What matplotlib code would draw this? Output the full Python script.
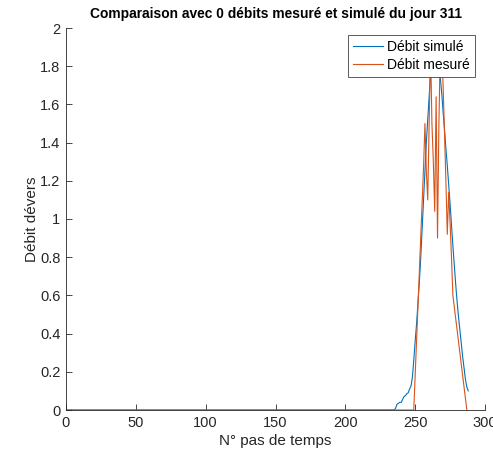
import matplotlib
matplotlib.use("Agg")
import matplotlib.pyplot as plt
from matplotlib.ticker import FuncFormatter

plt.rcParams['font.family'] = ['Liberation Sans', 'DejaVu Sans']

# Simulated flow: zero until step 235, then values
sim_start = 235
sim_vals = [0, 0.01, 0.03, 0.035, 0.04, 0.04, 0.055, 0.07, 0.075, 0.085, 0.09,
            0.11, 0.125, 0.17, 0.26, 0.36, 0.45, 0.56, 0.67, 0.80, 0.95, 1.10,
            1.26, 1.40, 1.52, 1.64, 1.75, 1.83, 1.88, 1.90, 1.90, 1.88, 1.82,
            1.74, 1.66, 1.56, 1.47, 1.37, 1.28, 1.18, 1.08, 0.97, 0.86, 0.76,
            0.66, 0.57, 0.49, 0.42, 0.35, 0.28, 0.22, 0.16, 0.12, 0.10]

# Measured flow: zero until step 249, then values
mes_start = 249
mes_vals = [0, 0.18, 0.36, 0.54, 0.72, 0.90, 1.08, 1.27, 1.50, 1.25, 1.10,
            1.50, 1.90, 1.50, 1.30, 1.04, 1.64, 0.90, 1.50, 1.90, 1.90, 1.70,
            1.45, 1.20, 0.92, 1.14, 0.98, 0.80, 0.60, 0.54, 0.48, 0.42, 0.36,
            0.30, 0.24, 0.18, 0.12, 0.06, 0]

sim_x = list(range(1, sim_start)) + list(range(sim_start, sim_start + len(sim_vals)))
sim_y = [0.0] * (sim_start - 1) + sim_vals
mes_x = list(range(1, mes_start)) + list(range(mes_start, mes_start + len(mes_vals)))
mes_y = [0.0] * (mes_start - 1) + mes_vals

title = "Comparaison avec 0 débits mesuré et simulé du jour 311"
xlabel = "N° pas de temps"
ylabel = "Débit dévers"

fig = plt.figure(figsize=(4.93, 4.59), dpi=100)
ax = fig.add_axes([66/493, 49/459, 419/493, 382/459])

ax.plot(sim_x, sim_y, color='#0072BD', lw=0.8, label='Débit simulé')
ax.plot(mes_x, mes_y, color='#D95319', lw=0.8, label='Débit mesuré')

ax.set_xlim(0, 300)
ax.set_ylim(0, 2)
ax.set_xticks(range(0, 301, 50))
ax.set_yticks([i * 0.2 for i in range(11)])
ax.yaxis.set_major_formatter(FuncFormatter(lambda v, p: f"{v:g}"))

for s in ['top', 'right']:
    ax.spines[s].set_visible(False)
for s in ['left', 'bottom']:
    ax.spines[s].set_color('#262626')
    ax.spines[s].set_linewidth(0.6)
ax.tick_params(direction='in', length=4, width=0.6, colors='#262626',
               labelsize=10.5, labelcolor='#262626', pad=4)

ax.set_title(title, fontsize=9.9, fontweight='bold', pad=7)
ax.set_xlabel(xlabel, fontsize=11, color='#262626', labelpad=3)
ax.set_ylabel(ylabel, fontsize=11, color='#262626', labelpad=1)

leg = ax.legend(loc='upper right', bbox_to_anchor=(0.976, 0.982), fontsize=10,
                frameon=True, fancybox=False, edgecolor='#404040',
                borderpad=0.35, handlelength=2.2, handletextpad=0.3,
                labelspacing=0.3, borderaxespad=0.0)
leg.get_frame().set_linewidth(0.6)
leg.get_frame().set_alpha(1)

fig.savefig("out.png", dpi=100)
